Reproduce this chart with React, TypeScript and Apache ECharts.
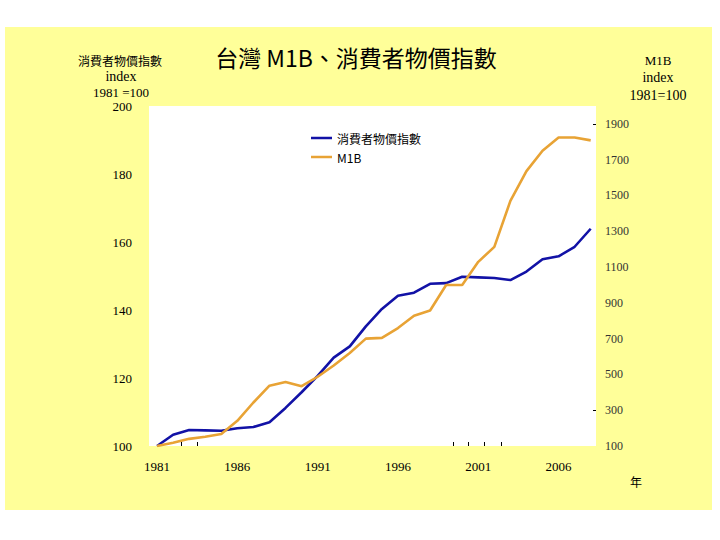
import React, { useEffect, useRef } from "react";
import * as echarts from "echarts";

const years = [1981, 1982, 1983, 1984, 1985, 1986, 1987, 1988, 1989, 1990, 1991, 1992, 1993, 1994, 1995, 1996, 1997, 1998, 1999, 2000, 2001, 2002, 2003, 2004, 2005, 2006, 2007, 2008];
const cpi = [100, 103.3, 104.7, 104.6, 104.5, 105.2, 105.6, 107.0, 111.2, 115.8, 120.6, 126.0, 129.3, 135.2, 140.3, 144.2, 145.1, 147.7, 147.9, 149.8, 149.6, 149.4, 148.8, 151.3, 154.9, 155.8, 158.6, 163.9];
const m1b = [100, 118, 140, 152, 167, 241, 343, 437, 458, 434, 487, 550, 620, 700, 704, 759, 828, 857, 1000, 1000, 1129, 1213, 1470, 1636, 1750, 1824, 1824, 1808];
const yearLabels = [1981, 1986, 1991, 1996, 2001, 2006];
const yearTicks = [1982.5, 1983.5, 1999.45, 2000.4, 2001.4, 2002.4];
const leftTicks = [100, 120, 140, 160, 180, 200];
const rightLabels = [100, 300, 500, 700, 900, 1100, 1300, 1500, 1700, 1900];
const rightTicks = [300, 1900];

const cpiName = "消費者物價指數";
const m1bName = "M1B";

const serif = "Liberation Serif";
const cjk = "Noto Sans CJK TC";
const plain = (v: number) => String(v);

export default function App() {
  const ref = useRef<HTMLDivElement>(null);
  useEffect(() => {
    if (!ref.current) return;
    const chart = echarts.init(ref.current, null, { renderer: "svg" });
    const txt = (text: string, x: number, y: number, size: number, font: string) => ({
      type: "text",
      x,
      y,
      z: 10,
      style: { text, fontSize: size, fontFamily: font, fill: "#000", align: "center", verticalAlign: "middle" },
    });
    chart.setOption({
      animation: false,
      backgroundColor: "#ffffff",
      graphic: [
        { type: "rect", z: -10, shape: { x: 5, y: 27, width: 707, height: 483 }, style: { fill: "#FFFF99" } },
        txt("台灣 M1B、消費者物價指數", 356, 57, 23, cjk),
        txt("消費者物價指數", 120, 60, 12, cjk),
        txt("index", 121, 76, 14, serif),
        txt("1981 =100", 121, 92, 13, serif),
        txt("M1B", 658, 60, 13, serif),
        txt("index", 658, 77, 14, serif),
        txt("1981=100", 658, 95, 14, serif),
        txt("年", 636, 481, 12, cjk),
      ],
      grid: {
        left: 149,
        right: 124,
        top: 106,
        bottom: 94,
        show: true,
        backgroundColor: "#ffffff",
        borderWidth: 0,
      },
      legend: {
        orient: "vertical",
        left: 306,
        top: 127,
        icon: "rect",
        itemWidth: 21,
        itemHeight: 2.5,
        itemGap: 7,
        textStyle: { fontFamily: cjk, fontSize: 12, color: "#000" },
        data: [cpiName, m1bName],
      },
      xAxis: {
        type: "value",
        min: 1980.5,
        max: 2008.33,
        axisLine: { show: false },
        splitLine: { show: false },
        axisTick: { show: true, inside: true, length: 4, customValues: yearTicks, lineStyle: { color: "#000" } },
        axisLabel: {
          customValues: yearLabels,
          formatter: plain,
          margin: 14,
          fontFamily: serif,
          fontSize: 13,
          color: "#000",
        },
      },
      yAxis: [
        {
          type: "value",
          position: "left",
          min: 100,
          max: 200,
          interval: 20,
          axisLine: { show: false },
          axisTick: { show: false },
          splitLine: { show: false },
          axisLabel: { margin: 17, fontFamily: serif, fontSize: 13, color: "#000", customValues: leftTicks, formatter: plain },
        },
        {
          type: "value",
          position: "right",
          min: 100,
          max: 2000,
          axisLine: { show: false },
          splitLine: { show: false },
          axisTick: { show: true, inside: true, length: 3, customValues: rightTicks, lineStyle: { color: "#000" } },
          axisLabel: { margin: 9, fontFamily: serif, fontSize: 12, color: "#333", customValues: rightLabels, formatter: plain },
        },
      ],
      series: [
        {
          name: cpiName,
          type: "line",
          yAxisIndex: 0,
          symbol: "none",
          lineStyle: { color: "#1212A6", width: 2.6 },
          itemStyle: { color: "#1212A6" },
          data: years.map((y, i) => [y, cpi[i]]),
        },
        {
          name: m1bName,
          type: "line",
          yAxisIndex: 1,
          symbol: "none",
          lineStyle: { color: "#E8A335", width: 2.6 },
          itemStyle: { color: "#E8A335" },
          data: years.map((y, i) => [y, m1b[i]]),
        },
      ],
    });
    return () => chart.dispose();
  }, []);
  return <div ref={ref} style={{ position: "fixed", left: 0, top: 0, width: 720, height: 540 }} />;
}
